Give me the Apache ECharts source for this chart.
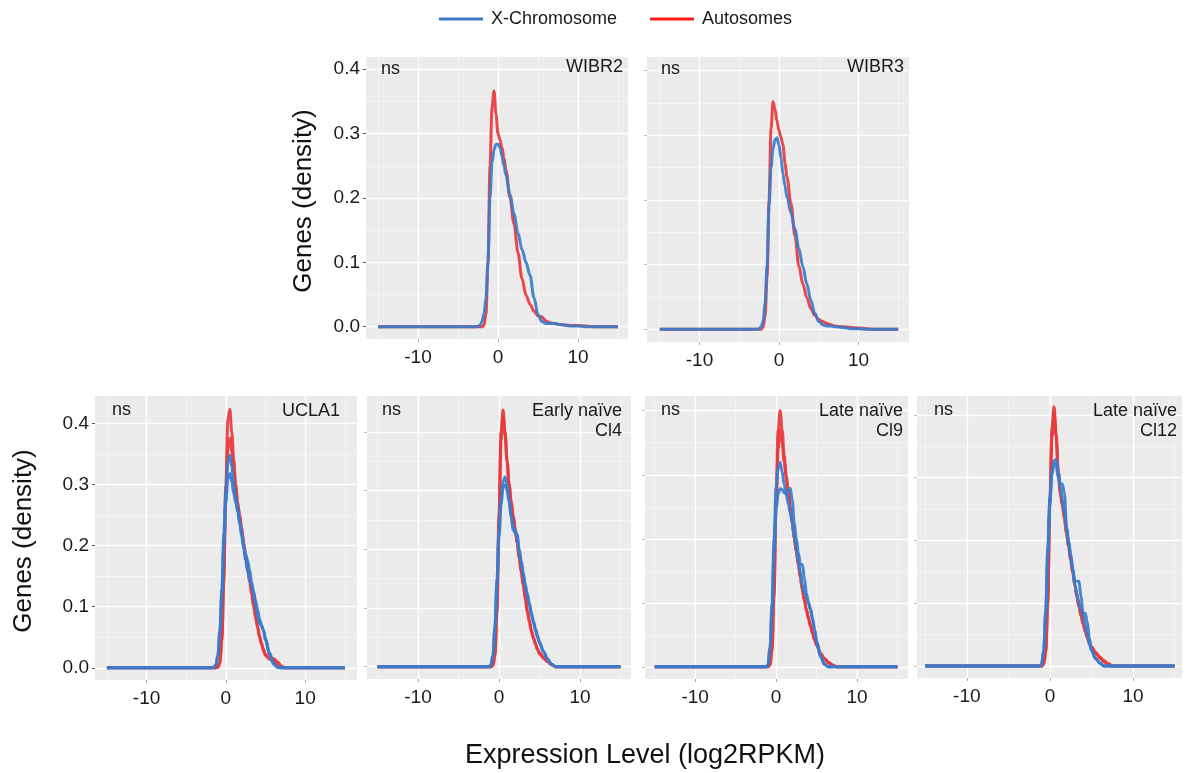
<!DOCTYPE html>
<html><head><meta charset="utf-8">
<script src="https://cdn.jsdelivr.net/npm/echarts@6/dist/echarts.min.js"></script>
<style>html,body{margin:0;padding:0;background:#fff}#c{width:1186px;height:773px}</style>
</head><body><div id="c"></div>
<script>
// ---------- DATA ----------
const SERIES_NAMES = ['X-Chromosome', 'Autosomes'];
const PANEL_TITLES = ['WIBR2', 'WIBR3', 'UCLA1', 'Early naïve\nCl4', 'Late naïve\nCl9', 'Late naïve\nCl12'];
const SIG_LABEL = 'ns';
const X_TICKS = [-10, 0, 10];
const X_MINOR = [-15, -5, 5, 15];
const Y_TICKS = [0, 0.1, 0.2, 0.3, 0.4];
const Y_MINOR = [0.05, 0.15, 0.25, 0.35];

// expression level (log2RPKM) sample points
const X_TOP = [-15, -2.75, -2.5, -2.25, -2, -1.75, -1.5, -1.25, -1, -0.75, -0.5, -0.25, 0, 0.25, 0.5, 0.75, 1, 1.5, 2, 2.5, 3, 3.5, 4, 4.5, 5, 5.5, 6, 6.5, 7, 8, 9, 10, 11, 12, 15];
const X_BOTTOM = [-15, -1.75, -1.5, -1.25, -1, -0.75, -0.5, -0.25, 0, 0.25, 0.5, 0.75, 1, 1.25, 1.5, 1.75, 2, 2.25, 2.5, 2.75, 3, 3.25, 3.5, 3.75, 4, 4.25, 4.5, 4.75, 5, 5.5, 6, 6.5, 7, 7.5, 8, 15];

// density values
const WIBR2_AUTO = [0,0,0,0,0,0.002,0.02,0.1,0.25,0.34,0.366,0.33,0.3,0.29,0.278,0.262,0.243,0.2,0.16,0.115,0.075,0.049,0.035,0.024,0.017,0.015,0.009,0.006,0.005,0.003,0.002,0.002,0.001,0,0];
const WIBR2_X = [0,0,0.001,0.002,0.008,0.02,0.045,0.1,0.2,0.255,0.275,0.283,0.284,0.278,0.265,0.25,0.235,0.205,0.175,0.145,0.12,0.1,0.08,0.045,0.018,0.008,0.005,0.005,0.005,0.003,0.001,0.001,0,0,0];
const WIBR3_AUTO = [0,0,0,0,0.003,0.02,0.08,0.2,0.31,0.352,0.34,0.322,0.307,0.297,0.285,0.258,0.235,0.195,0.145,0.098,0.07,0.049,0.032,0.022,0.015,0.012,0.009,0.007,0.005,0.004,0.003,0.002,0.001,0,0];
const WIBR3_X = [0,0,0.001,0.004,0.012,0.04,0.1,0.19,0.25,0.28,0.293,0.296,0.285,0.265,0.24,0.222,0.205,0.18,0.155,0.125,0.097,0.07,0.045,0.025,0.012,0.007,0.005,0.005,0.004,0.003,0.001,0.001,0,0,0];

const UCLA1_AUTO_1 = [0,0,0,0,0.001,0.01,0.05,0.16,0.3,0.405,0.423,0.385,0.34,0.3,0.27,0.25,0.23,0.205,0.185,0.165,0.145,0.127,0.105,0.085,0.068,0.052,0.04,0.03,0.022,0.016,0.015,0.01,0.003,0,0,0];
const UCLA1_AUTO_2 = [0,0,0,0,0.001,0.008,0.045,0.14,0.28,0.36,0.376,0.352,0.32,0.29,0.265,0.245,0.225,0.2,0.18,0.16,0.14,0.12,0.1,0.082,0.066,0.05,0.038,0.028,0.02,0.014,0.012,0.006,0.001,0,0,0];
const UCLA1_X_1 = [0,0,0.001,0.005,0.02,0.06,0.13,0.22,0.29,0.335,0.348,0.33,0.3,0.28,0.26,0.24,0.22,0.2,0.185,0.176,0.16,0.14,0.125,0.11,0.095,0.08,0.07,0.06,0.045,0.022,0.006,0.001,0,0,0,0];
const UCLA1_X_2 = [0,0,0.001,0.005,0.02,0.06,0.12,0.2,0.27,0.31,0.318,0.305,0.285,0.27,0.255,0.235,0.215,0.195,0.175,0.158,0.145,0.133,0.122,0.1,0.085,0.072,0.068,0.062,0.048,0.025,0.008,0.001,0,0,0,0];

const CL4_AUTO_1 = [0,0,0,0,0,0.002,0.02,0.1,0.26,0.4,0.437,0.4,0.35,0.31,0.28,0.256,0.235,0.21,0.185,0.163,0.142,0.118,0.095,0.078,0.062,0.05,0.04,0.03,0.024,0.016,0.01,0.004,0,0,0,0];
const CL4_AUTO_2 = [0,0,0,0,0,0.002,0.018,0.09,0.245,0.385,0.425,0.395,0.35,0.31,0.282,0.258,0.235,0.21,0.184,0.16,0.138,0.115,0.093,0.076,0.06,0.048,0.038,0.029,0.022,0.014,0.008,0.003,0,0,0,0];
const CL4_X_1 = [0,0,0,0,0.003,0.02,0.07,0.15,0.23,0.285,0.315,0.323,0.31,0.285,0.255,0.232,0.228,0.225,0.195,0.175,0.155,0.135,0.12,0.105,0.088,0.075,0.062,0.05,0.04,0.025,0.012,0.004,0,0,0,0];
const CL4_X_2 = [0,0,0,0,0.003,0.018,0.065,0.14,0.22,0.275,0.305,0.31,0.3,0.28,0.258,0.24,0.232,0.22,0.2,0.18,0.16,0.14,0.124,0.108,0.092,0.078,0.065,0.053,0.042,0.026,0.013,0.004,0,0,0,0];

const CL9_AUTO_1 = [0,0,0,0,0,0.003,0.03,0.12,0.27,0.37,0.4,0.37,0.33,0.3,0.275,0.25,0.225,0.2,0.18,0.16,0.14,0.12,0.105,0.09,0.077,0.065,0.053,0.043,0.035,0.02,0.012,0.006,0.002,0,0,0];
const CL9_AUTO_2 = [0,0,0,0,0,0.003,0.027,0.11,0.25,0.34,0.37,0.35,0.32,0.295,0.27,0.248,0.225,0.2,0.18,0.16,0.14,0.12,0.103,0.088,0.075,0.063,0.052,0.042,0.034,0.021,0.013,0.007,0.003,0,0,0];
const CL9_X_1 = [0,0,0,0,0.003,0.03,0.1,0.2,0.28,0.31,0.319,0.305,0.285,0.27,0.255,0.24,0.225,0.205,0.185,0.165,0.148,0.128,0.116,0.108,0.1,0.09,0.075,0.058,0.04,0.016,0.004,0,0,0,0,0];
const CL9_X_2 = [0,0,0,0,0.003,0.03,0.09,0.18,0.245,0.27,0.278,0.277,0.272,0.27,0.274,0.279,0.26,0.225,0.2,0.178,0.16,0.16,0.138,0.115,0.1,0.09,0.075,0.058,0.04,0.016,0.004,0,0,0,0,0];

const CL12_AUTO_1 = [0,0,0,0,0,0.003,0.025,0.11,0.27,0.38,0.413,0.37,0.31,0.275,0.255,0.235,0.21,0.19,0.17,0.15,0.13,0.112,0.095,0.08,0.067,0.055,0.045,0.036,0.029,0.02,0.013,0.007,0.002,0,0,0];
const CL12_AUTO_2 = [0,0,0,0,0,0.003,0.022,0.1,0.255,0.365,0.402,0.365,0.31,0.278,0.257,0.236,0.212,0.19,0.168,0.148,0.128,0.11,0.094,0.08,0.068,0.057,0.047,0.038,0.031,0.022,0.015,0.009,0.004,0.001,0,0];
const CL12_X_1 = [0,0,0,0,0.003,0.025,0.09,0.19,0.27,0.31,0.327,0.329,0.31,0.285,0.265,0.245,0.222,0.2,0.178,0.155,0.13,0.115,0.1,0.09,0.083,0.084,0.07,0.045,0.025,0.012,0.005,0,0,0,0,0];
const CL12_X_2 = [0,0,0,0,0.003,0.025,0.085,0.18,0.26,0.305,0.322,0.32,0.3,0.29,0.29,0.275,0.22,0.195,0.175,0.155,0.135,0.135,0.135,0.11,0.08,0.065,0.05,0.035,0.025,0.012,0.005,0,0,0,0,0];

// ---------- LAYOUT ----------
const FONT = '"Liberation Sans", Arial, sans-serif';
const BLUE = '#3a7ccc';
const RED = '#e8383c';
const PANELS = [
  {xs: X_TOP, auto: [WIBR2_AUTO], xchr: [WIBR2_X], box: {left: 366, top: 57, width: 262, height: 282}, xr: [-16.5, 16.25], yr: [-0.0191, 0.419], yLabels: true, nsDx: 15, tDx: 5},
  {xs: X_TOP, auto: [WIBR3_AUTO], xchr: [WIBR3_X], box: {left: 647, top: 57, width: 262, height: 285}, xr: [-16.6, 16.35], yr: [-0.0196, 0.421], yLabels: false, nsDx: 14, tDx: 5},
  {xs: X_BOTTOM, auto: [UCLA1_AUTO_1, UCLA1_AUTO_2], xchr: [UCLA1_X_1, UCLA1_X_2], box: {left: 95, top: 396, width: 262, height: 284}, xr: [-16.5, 16.54], yr: [-0.020, 0.4447], yLabels: true, nsDx: 17, tDx: 17},
  {xs: X_BOTTOM, auto: [CL4_AUTO_1, CL4_AUTO_2], xchr: [CL4_X_1, CL4_X_2], box: {left: 367, top: 396, width: 264, height: 283}, xr: [-16.3, 16.3], yr: [-0.021, 0.461], yLabels: false, nsDx: 15, tDx: 9},
  {xs: X_BOTTOM, auto: [CL9_AUTO_1, CL9_AUTO_2], xchr: [CL9_X_1, CL9_X_2], box: {left: 645, top: 396, width: 263, height: 283}, xr: [-16.2, 16.3], yr: [-0.019, 0.423], yLabels: false, nsDx: 16, tDx: 5},
  {xs: X_BOTTOM, auto: [CL12_AUTO_1, CL12_AUTO_2], xchr: [CL12_X_1, CL12_X_2], box: {left: 917, top: 396, width: 265, height: 282}, xr: [-16.0, 15.9], yr: [-0.019, 0.43], yLabels: false, nsDx: 17, tDx: 5}
];

const grids = [], xAxes = [], yAxes = [], series = [], graphic = [];
PANELS.forEach((p, i) => {
  grids.push(Object.assign({show: true, backgroundColor: '#EBEBEB', borderWidth: 0}, p.box));
  xAxes.push({
    type: 'value', gridIndex: i, position: 'bottom', min: p.xr[0], max: p.xr[1],
    axisLine: {show: false, onZero: false},
    axisTick: {show: true, length: 3, lineStyle: {color: '#aaa'}, customValues: X_TICKS},
    axisLabel: {show: true, customValues: X_TICKS, color: '#1a1a1a', fontSize: 19, fontFamily: FONT, margin: 9, formatter: v => String(v)},
    splitLine: {show: true, lineStyle: {color: '#ffffff', width: 1.4}}
  });
  xAxes.push({
    type: 'value', gridIndex: i, position: 'top', min: p.xr[0], max: p.xr[1],
    axisLine: {show: false, onZero: false},
    axisTick: {show: false, customValues: X_MINOR},
    axisLabel: {show: false, customValues: X_MINOR},
    splitLine: {show: true, lineStyle: {color: '#f7f7f7', width: 0.7}}
  });
  yAxes.push({
    type: 'value', gridIndex: i, position: 'left', min: p.yr[0], max: p.yr[1],
    axisLine: {show: false, onZero: false},
    axisTick: {show: true, length: 3, lineStyle: {color: p.yLabels ? '#555' : '#bbb'}, customValues: Y_TICKS},
    axisLabel: {show: p.yLabels, customValues: Y_TICKS, color: '#1a1a1a', fontSize: 19, fontFamily: FONT, margin: 6, formatter: v => v.toFixed(1)},
    splitLine: {show: true, lineStyle: {color: '#ffffff', width: 1.4}}
  });
  yAxes.push({
    type: 'value', gridIndex: i, position: 'right', min: p.yr[0], max: p.yr[1],
    axisLine: {show: false, onZero: false},
    axisTick: {show: false, customValues: Y_MINOR},
    axisLabel: {show: false, customValues: Y_MINOR},
    splitLine: {show: true, lineStyle: {color: '#f7f7f7', width: 0.7}}
  });
  const mk = (name, ys, color) => ({
    name, type: 'line', xAxisIndex: 2 * i, yAxisIndex: 2 * i,
    data: p.xs.map((x, k) => [x, ys[k]]),
    symbol: 'none', smooth: 0.35, smoothMonotone: 'x',
    lineStyle: {color, width: 3, opacity: 0.92}, itemStyle: {color},
    silent: true, z: name === SERIES_NAMES[0] ? 3 : 2
  });
  p.auto.forEach(ys => series.push(mk(SERIES_NAMES[1], ys, RED)));
  p.xchr.forEach(ys => series.push(mk(SERIES_NAMES[0], ys, BLUE)));
  const b = p.box;
  graphic.push({type: 'text', x: b.left + p.nsDx, y: b.top + (i < 2 ? 2 : 4), z: 100,
    style: {text: SIG_LABEL, font: '18px ' + FONT, fill: '#1a1a1a', lineHeight: 20, align: 'left', verticalAlign: 'top'}});
  graphic.push({type: 'text', x: b.left + b.width - p.tDx, y: b.top + (i < 2 ? 0 : 5), z: 100,
    style: {text: PANEL_TITLES[i], font: '18px ' + FONT, fill: '#1a1a1a', align: 'right', verticalAlign: 'top', lineHeight: 20}});
});

graphic.push({type: 'text', x: 304, y: 201, rotation: Math.PI / 2,
  style: {text: 'Genes (density)', font: '26px ' + FONT, fill: '#111', align: 'center', verticalAlign: 'middle'}});
graphic.push({type: 'text', x: 24, y: 541, rotation: Math.PI / 2,
  style: {text: 'Genes (density)', font: '26px ' + FONT, fill: '#111', align: 'center', verticalAlign: 'middle'}});
graphic.push({type: 'text', x: 645, y: 756,
  style: {text: 'Expression Level (log2RPKM)', font: '27px ' + FONT, fill: '#111', align: 'center', verticalAlign: 'middle'}});

const option = {
  animation: false,
  backgroundColor: '#ffffff',
  legend: {
    left: 439, top: 10, padding: 0, icon: 'rect', itemWidth: 44, itemHeight: 3, itemGap: 33,
    textStyle: {fontSize: 18, fontFamily: FONT, color: '#1a1a1a', padding: [0, 0, 0, 3]},
    data: [
      {name: SERIES_NAMES[0], itemStyle: {color: '#3a78c0'}},
      {name: SERIES_NAMES[1], itemStyle: {color: '#ff1a1a'}}
    ]
  },
  grid: grids, xAxis: xAxes, yAxis: yAxes, series, graphic
};
const chart = echarts.init(document.getElementById('c'), null, {renderer: 'canvas'});
chart.setOption(option);
</script></body></html>
